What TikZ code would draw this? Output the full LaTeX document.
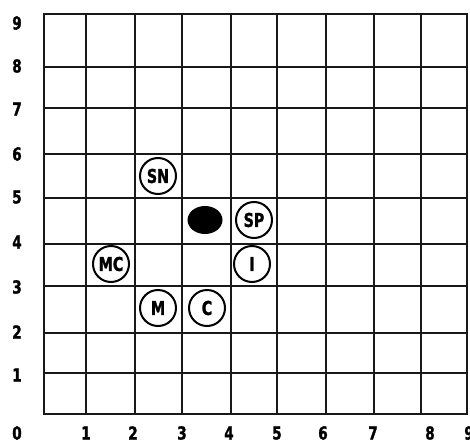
\documentclass[tikz,border=0pt]{standalone}
\usepackage{fontspec}
\usetikzlibrary{shapes.geometric}
\setmainfont{DejaVu Sans}
\newfontfamily\labfont{DejaVu Sans Bold}[FakeStretch=0.75,FakeBold=1.5]
\begin{document}
\begin{tikzpicture}[x=1pt,y=-1pt,
  gridline/.style={line width=1.6pt,black!90},
  frame/.style={line width=2.2pt,black!90},
  axlab/.style={font=\labfont\fontsize{18}{18}\selectfont,inner sep=0pt},
  piece/.style={circle,draw,line width=2pt,minimum size=36pt,inner sep=0pt,fill=white,font=\labfont\fontsize{19}{19}\selectfont},
  blob/.style={ellipse,fill=black,minimum width=35pt,minimum height=28pt,inner sep=0pt}]
\useasboundingbox (0,0) rectangle (470,444);
\fill[white] (0,0) rectangle (470,444);
% vertical lines
\foreach \x in {86,135,182,231,277,326,374,421}
  \draw[gridline] (\x,14) -- (\x,414);
% horizontal lines
\foreach \y in {67,108,154,198,244,286,333,373}
  \draw[gridline] (44,\y) -- (467,\y);
\draw[frame] (44,14) rectangle (467,414);
% y labels
\foreach \t/\y in {9/23,8/66,7/109,6/154,5/197,4/242,3/287,2/332,1/375,0/433}
  \node[axlab] (y\t) at (17,\y) {\t};
% x labels
\foreach \t/\x in {1/86,2/133,3/182,4/229,5/277,6/323,7/373,8/430,9/469}
  \node[axlab] (x\t) at (\x,433) {\t};
% pieces
\node[piece] (sn) at (158,176) {SN};
\node[piece] (sp) at (254,220) {SP};
\node[piece] (i) at (252,264) {I};
\node[piece] (mc) at (111,264) {MC};
\node[piece] (m) at (158,308) {M};
\node[piece] (c) at (207,308) {C};
\node[blob] (b) at (205,220) {};
\end{tikzpicture}
\end{document}
